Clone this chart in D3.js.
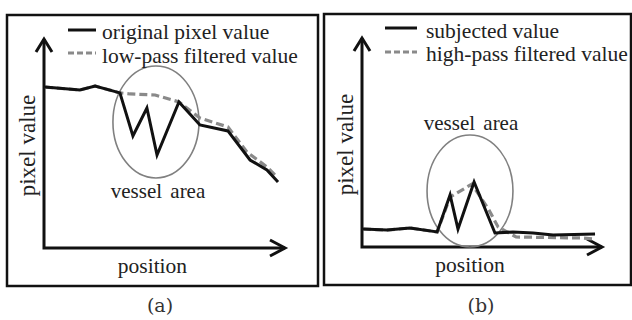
<!DOCTYPE html>
<html>
<head>
<meta charset="utf-8">
<script src="https://cdn.jsdelivr.net/npm/d3@7"></script>
<style>
  html, body { margin: 0; padding: 0; background: #fff; }
  svg { display: block; }
</style>
</head>
<body>
<svg id="chart" width="632" height="320"></svg>
<script>
// Positions along the profile (0–100) and pixel values (0–100)
const lowPassX        = [0.4, 14.9, 21.2, 31.5, 36.9, 42.7, 46.9, 56.0, 64.7, 76.3, 85.5, 92.5, 97.1];
const originalValues  = [77.0, 75.6, 77.5, 74.2, 53.6, 67.0, 44.5, 69.9, 58.9, 56.0, 42.1, 37.3, 31.6];
const lowPassFiltX    = [0.4, 14.9, 21.2, 31.5, 35.7, 46.1, 56.0, 64.7, 76.3, 84.2, 92.5, 96.7];
const lowPassValues   = [77.0, 75.6, 77.5, 74.2, 73.7, 73.2, 69.9, 62.2, 57.9, 45.9, 38.8, 34.0];

const subjectedX      = [0.4, 10.4, 20.0, 31.3, 36.7, 40.0, 46.7, 55.4, 62.9, 71.3, 79.6, 97.1];
const subjectedValues = [8.6, 8.1, 9.1, 7.2, 24.9, 8.6, 31.1, 6.7, 7.2, 6.7, 5.7, 6.2];
const highPassX       = [0.4, 10.4, 20.0, 31.3, 36.7, 45.8, 52.9, 56.7, 64.2, 92.1, 97.1];
const highPassValues  = [8.6, 8.1, 9.1, 7.2, 23.9, 30.1, 17.7, 9.6, 4.8, 4.3, 3.8];

// Vessel region extents [xMin, xMax, yMin, yMax] in data units
const vesselA = [28.6, 64.3, 33.5, 87.1];
const vesselB = [27.1, 62.9, 0.0, 53.6];

const SERIF = "'Liberation Serif', Tinos, 'Times New Roman', Times, serif";

const panels = [
  {
    frame: [7, 15, 318, 286],
    axisX: [44, 285], axisY: [248, 39],
    solid: { xs: lowPassX, ys: originalValues, label: "original pixel value" },
    dashed: { xs: lowPassFiltX, ys: lowPassValues, label: "low-pass filtered value" },
    legend: { x0: 68, x1: 96, tx: 102, y1: 30, y2: 53, b1: 39, b2: 63 },
    vessel: vesselA, vesselLabel: { x: 158, y: 198 },
    caption: "(a)", captionX: 160
  },
  {
    frame: [324, 14, 631, 285],
    axisX: [362, 602], axisY: [247, 38],
    solid: { xs: subjectedX, ys: subjectedValues, label: "subjected value" },
    dashed: { xs: highPassX, ys: highPassValues, label: "high-pass filtered value" },
    legend: { x0: 385, x1: 417, tx: 426, y1: 28, y2: 52, b1: 38, b2: 61 },
    vessel: vesselB, vesselLabel: { x: 471, y: 130 },
    caption: "(b)", captionX: 481
  }
];

const svg = d3.select("#chart");

function label(sel, txt, size) {
  return sel.append("text")
    .attr("font-family", SERIF)
    .attr("font-size", size)
    .attr("fill", "#222")
    .text(txt);
}

panels.forEach(p => {
  const g = svg.append("g");
  const x = d3.scaleLinear().domain([0, 100]).range(p.axisX);
  const y = d3.scaleLinear().domain([0, 100]).range(p.axisY);

  // panel frame
  g.append("rect")
    .attr("x", p.frame[0]).attr("y", p.frame[1])
    .attr("width", p.frame[2] - p.frame[0]).attr("height", p.frame[3] - p.frame[1])
    .attr("fill", "none").attr("stroke", "#111").attr("stroke-width", 2.5);

  // axes with arrowheads
  const x0 = x(0), y0 = y(0), xEnd = x(100), yEnd = y(100);
  g.append("path")
    .attr("d", `M${x0},${yEnd} L${x0},${y0} L${xEnd},${y0}`)
    .attr("fill", "none").attr("stroke", "#111").attr("stroke-width", 3);
  g.append("path")
    .attr("d", `M${x0 - 8},${yEnd + 13} L${x0},${yEnd} L${x0 + 8},${yEnd + 13}`)
    .attr("fill", "none").attr("stroke", "#111").attr("stroke-width", 3);
  g.append("path")
    .attr("d", `M${xEnd - 15},${y0 - 8} L${xEnd},${y0} L${xEnd - 15},${y0 + 8}`)
    .attr("fill", "none").attr("stroke", "#111").attr("stroke-width", 3);

  // axis titles
  label(g, "pixel value", 23)
    .attr("transform", `translate(${x0 - 9},${(y0 + yEnd) / 2 + 2}) rotate(-90)`)
    .attr("text-anchor", "middle");
  label(g, "position", 21.5)
    .attr("x", x(45)).attr("y", y0 + 25)
    .attr("text-anchor", "middle");

  // vessel region ellipse
  const [vx0, vx1, vy0, vy1] = p.vessel;
  g.append("ellipse")
    .attr("cx", (x(vx0) + x(vx1)) / 2).attr("cy", (y(vy0) + y(vy1)) / 2)
    .attr("rx", (x(vx1) - x(vx0)) / 2).attr("ry", (y(vy0) - y(vy1)) / 2)
    .attr("fill", "none").attr("stroke", "#808080").attr("stroke-width", 1.6);
  label(g, "vessel area", 21)
    .attr("x", p.vesselLabel.x).attr("y", p.vesselLabel.y)
    .attr("text-anchor", "middle")
    .attr("word-spacing", 3);

  // profile lines
  const line = d3.line().x(d => x(d[0])).y(d => y(d[1]));
  g.append("path")
    .attr("d", line(d3.zip(p.dashed.xs, p.dashed.ys)))
    .attr("fill", "none").attr("stroke", "#8a8a8a").attr("stroke-width", 3.2)
    .attr("stroke-dasharray", "8,4");
  g.append("path")
    .attr("d", line(d3.zip(p.solid.xs, p.solid.ys)))
    .attr("fill", "none").attr("stroke", "#111").attr("stroke-width", 3);

  // legend
  const L = p.legend;
  g.append("line").attr("x1", L.x0).attr("x2", L.x1).attr("y1", L.y1).attr("y2", L.y1)
    .attr("stroke", "#111").attr("stroke-width", 3);
  g.append("line").attr("x1", L.x0).attr("x2", L.x1).attr("y1", L.y2).attr("y2", L.y2)
    .attr("stroke", "#8a8a8a").attr("stroke-width", 3).attr("stroke-dasharray", "6,3");
  label(g, p.solid.label, 21.5).attr("x", L.tx).attr("y", L.b1);
  label(g, p.dashed.label, 21.5).attr("x", L.tx).attr("y", L.b2);

  // caption
  svg.append("text")
    .attr("x", p.captionX).attr("y", 312)
    .attr("text-anchor", "middle")
    .attr("font-family", "'DejaVu Serif', serif")
    .attr("font-size", 19)
    .attr("fill", "#333")
    .text(p.caption);
});
</script>
</body>
</html>
